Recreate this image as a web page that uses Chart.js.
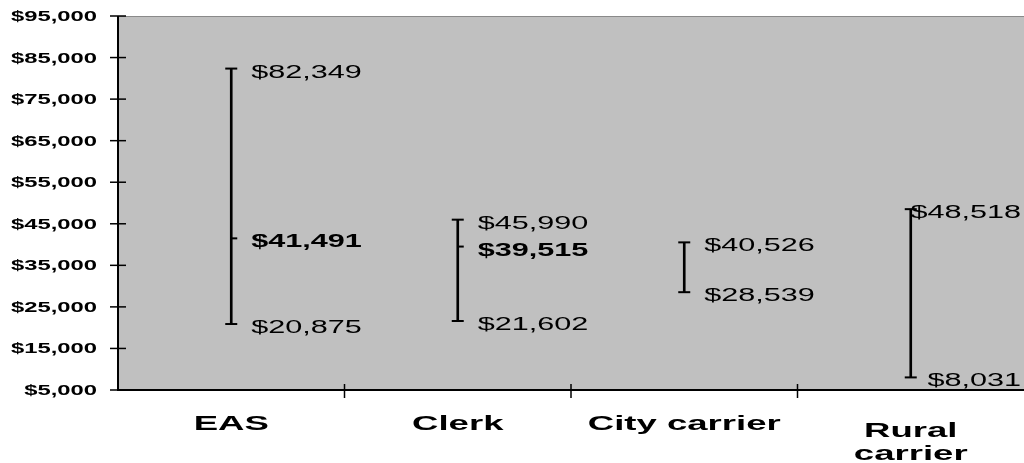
<!DOCTYPE html>
<html>
<head>
<meta charset="utf-8">
<script src="https://cdn.jsdelivr.net/npm/chart.js@4"></script>
<style>
  html, body { margin: 0; padding: 0; background: #fff; }
  #wrap { width: 1024px; height: 463px; position: relative; }
</style>
</head>
<body>
<div id="wrap"><canvas id="rangeChart"></canvas></div>
<script>
// pay ranges by craft
const categories = ["EAS", "Clerk", "City carrier", ["Rural", "carrier"]];
const highs = [82349, 45990, 40526, 48518];
const lows = [20875, 21602, 28539, 8031];
const means = [41491, 39515, null, null];
const yTicks = [5000, 15000, 25000, 35000, 45000, 55000, 65000, 75000, 85000, 95000];

const FONT = "'Liberation Sans', Arial, sans-serif";
const STRETCH = 1.7;

const money = (v) => "$" + v.toLocaleString("en-US");

function wideText(ctx, text, x, y, font, align, sx) {
  ctx.save();
  ctx.font = font;
  ctx.textAlign = align;
  ctx.textBaseline = "alphabetic";
  ctx.translate(x, y);
  ctx.scale(sx, 1);
  ctx.fillStyle = "#000";
  ctx.fillText(text, 0, 0);
  ctx.restore();
}

function textWidth(ctx, text, font, sx) {
  ctx.save();
  ctx.font = font;
  const w = ctx.measureText(text).width * sx;
  ctx.restore();
  return w;
}

const rangePlugin = {
  id: "rangePlugin",
  beforeDraw(chart) {
    const { ctx, chartArea: a } = chart;
    ctx.save();
    ctx.fillStyle = "#c0c0c0";
    ctx.fillRect(a.left, a.top, a.right - a.left, a.bottom - a.top);
    ctx.restore();
  },
  afterDraw(chart) {
    const { ctx, chartArea: a, scales } = chart;
    const x = scales.x, y = scales.y;
    ctx.save();
    // frame
    ctx.strokeStyle = "#8a8a8a";
    ctx.lineWidth = 1;
    ctx.beginPath();
    ctx.moveTo(a.left, a.top + 0.5);
    ctx.lineTo(a.right, a.top + 0.5);
    ctx.stroke();
    ctx.strokeStyle = "#000";
    ctx.lineWidth = 2;
    ctx.beginPath();
    ctx.moveTo(a.left, a.top);
    ctx.lineTo(a.left, a.bottom);
    ctx.lineTo(a.right, a.bottom);
    ctx.stroke();

    // y ticks + labels
    ctx.lineWidth = 1.5;
    yTicks.forEach((v) => {
      const py = y.getPixelForValue(v);
      ctx.beginPath();
      ctx.moveTo(a.left - 8, py);
      ctx.lineTo(a.left + 8, py);
      ctx.stroke();
      wideText(ctx, money(v), 97, py + 5, "bold 14px " + FONT, "right", STRETCH);
    });

    // x ticks between categories + labels
    const half = (x.getPixelForValue(1) - x.getPixelForValue(0)) / 2;
    categories.forEach((c, i) => {
      const cx = x.getPixelForValue(i);
      if (i > 0) {
        ctx.beginPath();
        ctx.moveTo(cx - half, a.bottom - 6);
        ctx.lineTo(cx - half, a.bottom + 8);
        ctx.stroke();
      }
      const lines = Array.isArray(c) ? c : [c];
      const base = a.bottom + 40 + (lines.length - 1) * 7;
      lines.forEach((t, k) => {
        wideText(ctx, t, cx, base + k * 23, "bold 21px " + FONT, "center", 1.74);
      });
    });

    // caps, mean ticks and value labels
    ctx.lineWidth = 2;
    const reg = "18px " + FONT, bold = "bold 18px " + FONT;
    const maxRight = chart.width - 3;
    categories.forEach((c, i) => {
      const cx = x.getPixelForValue(i);
      const hy = y.getPixelForValue(highs[i]);
      const ly = y.getPixelForValue(lows[i]);
      [hy, ly].forEach((py) => {
        ctx.beginPath();
        ctx.moveTo(cx - 6, py);
        ctx.lineTo(cx + 6, py);
        ctx.stroke();
      });
      const place = (txt, font, py) => {
        const w = textWidth(ctx, txt, font, STRETCH);
        const lx = Math.min(cx + 20, maxRight - w);
        wideText(ctx, txt, lx, py + 9, font, "left", STRETCH);
      };
      place(money(highs[i]), reg, hy);
      place(money(lows[i]), reg, ly);
      if (means[i] != null) {
        const my = y.getPixelForValue(means[i]);
        ctx.beginPath();
        ctx.moveTo(cx, my);
        ctx.lineTo(cx + 6, my);
        ctx.stroke();
        place(money(means[i]), bold, my);
      }
    });
    ctx.restore();
  },
};

new Chart(document.getElementById("rangeChart"), {
  type: "bar",
  data: {
    labels: categories,
    datasets: [
      {
        data: lows.map((lo, i) => [lo, highs[i]]),
        backgroundColor: "#000",
        borderWidth: 0,
        barThickness: 2,
      },
    ],
  },
  options: {
    responsive: true,
    maintainAspectRatio: false,
    animation: false,
    layout: { padding: { top: 16, right: -2, left: 0, bottom: 0 } },
    plugins: { legend: { display: false }, tooltip: { enabled: false } },
    scales: {
      x: {
        type: "category",
        offset: true,
        grid: { display: false },
        border: { display: false },
        ticks: { display: false },
        afterFit: (s) => { s.height = 73; },
      },
      y: {
        min: 5000,
        max: 95000,
        grid: { display: false },
        border: { display: false },
        ticks: { display: false, stepSize: 10000 },
        afterFit: (s) => { s.width = 118; },
      },
    },
  },
  plugins: [rangePlugin],
});
</script>
</body>
</html>
